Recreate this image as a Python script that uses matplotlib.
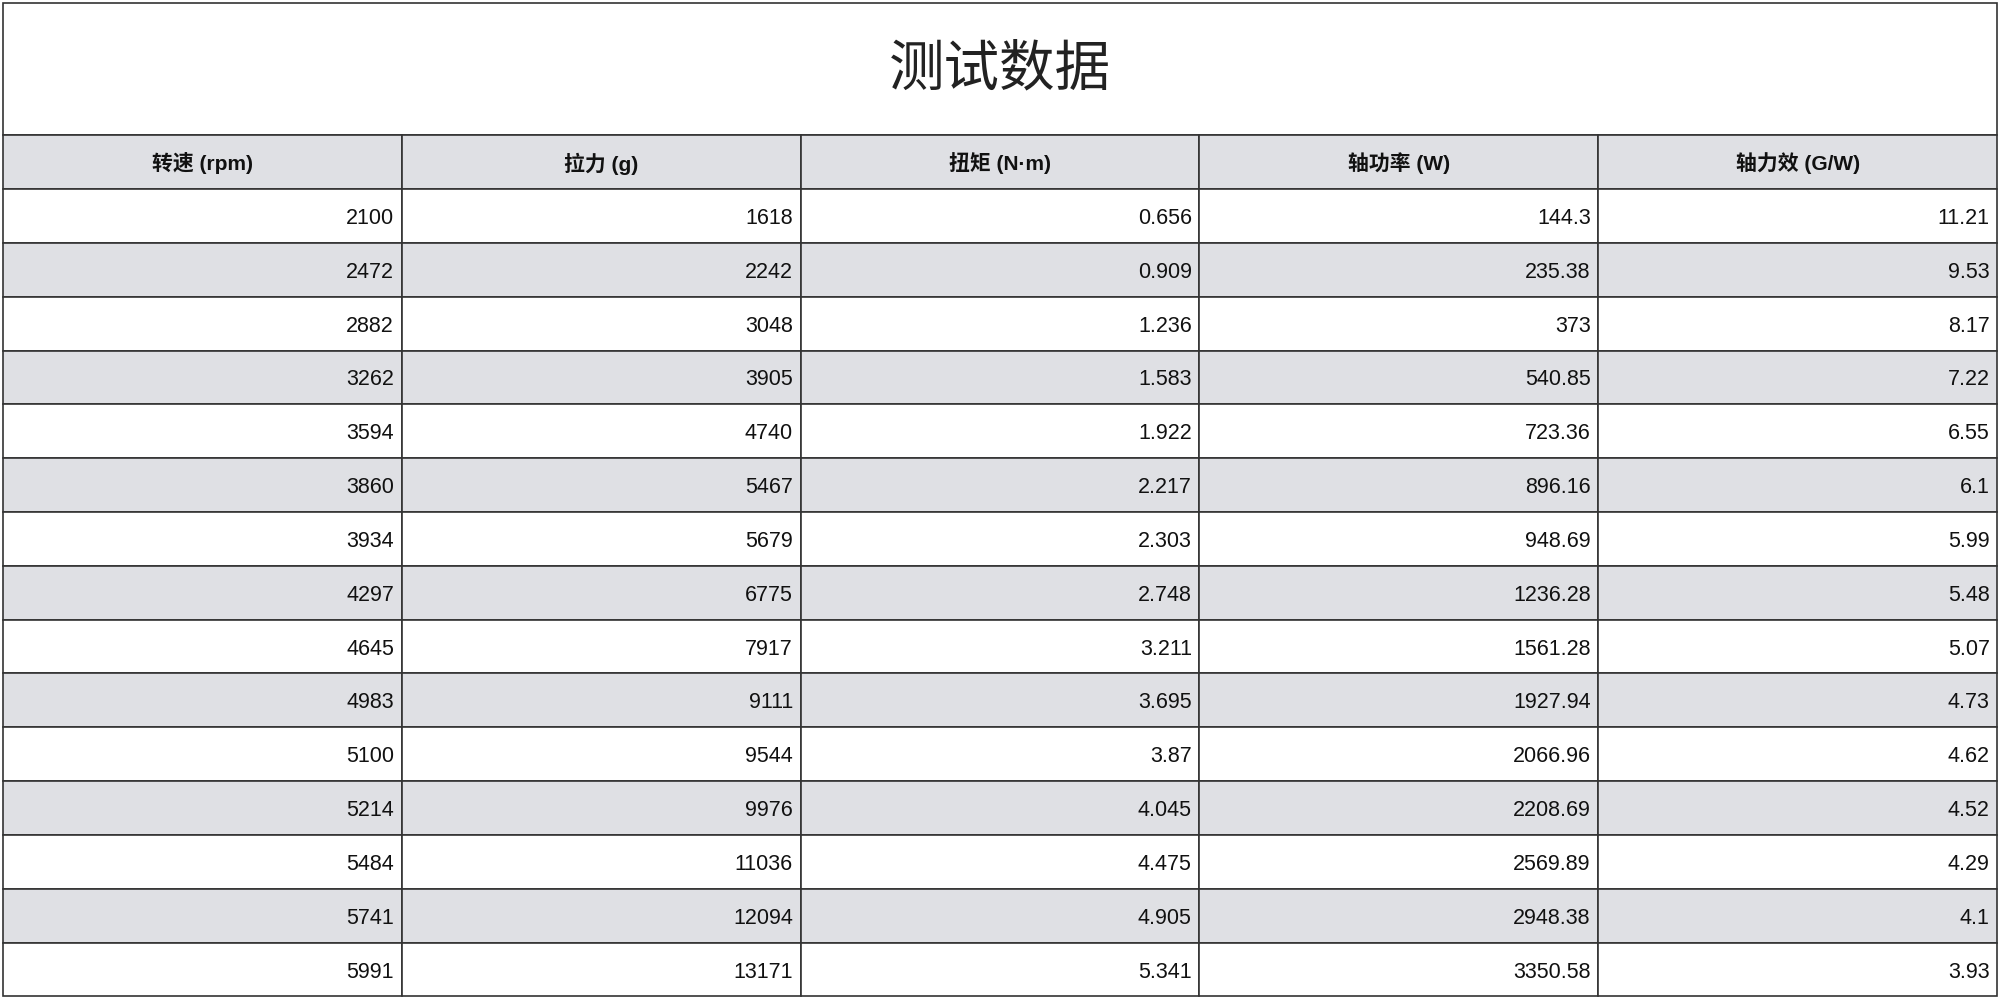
import matplotlib
matplotlib.use('Agg')
import matplotlib.pyplot as plt
from matplotlib.patches import Rectangle

plt.rcParams['font.family'] = ['Liberation Sans', 'Noto Sans CJK SC', 'DejaVu Sans']

title = '测试数据'
headers = ['转速 (rpm)', '拉力 (g)', '扭矩 (N·m)', '轴功率 (W)', '轴力效 (G/W)']
rpm = ['2100', '2472', '2882', '3262', '3594', '3860', '3934', '4297', '4645', '4983', '5100', '5214', '5484', '5741', '5991']
thrust = ['1618', '2242', '3048', '3905', '4740', '5467', '5679', '6775', '7917', '9111', '9544', '9976', '11036', '12094', '13171']
torque = ['0.656', '0.909', '1.236', '1.583', '1.922', '2.217', '2.303', '2.748', '3.211', '3.695', '3.87', '4.045', '4.475', '4.905', '5.341']
power = ['144.3', '235.38', '373', '540.85', '723.36', '896.16', '948.69', '1236.28', '1561.28', '1927.94', '2066.96', '2208.69', '2569.89', '2948.38', '3350.58']
efficiency = ['11.21', '9.53', '8.17', '7.22', '6.55', '6.1', '5.99', '5.48', '5.07', '4.73', '4.62', '4.52', '4.29', '4.1', '3.93']

columns = [rpm, thrust, torque, power, efficiency]
grey = '#dfe0e4'
line = '#333333'

# layout in reference pixel units (1568 x 784 view)
W, H = 1568, 784
left, right = 2, 1566
top, title_h, row_h = 2, 104, 42.2
col_w = (right - left) / len(headers)

fig = plt.figure(figsize=(20, 10), dpi=100)
ax = fig.add_axes([0, 0, 1, 1])
ax.set_xlim(0, W)
ax.set_ylim(H, 0)
ax.axis('off')

# title box
ax.add_patch(Rectangle((left, top), right - left, title_h, fill=False, ec=line, lw=1.2))
ax.text(W / 2, top + title_h / 2 + 2, title, ha='center', va='center', fontsize=40, color='#222222')

y0 = top + title_h
# header
for j, h in enumerate(headers):
    x = left + j * col_w
    ax.add_patch(Rectangle((x, y0), col_w, row_h, fc=grey, ec=line, lw=1.2))
    ax.text(x + col_w / 2, y0 + row_h / 2 + 1, h, ha='center', va='center', fontsize=15, fontweight='bold', color='#111111')

# body
for i in range(len(rpm)):
    y = y0 + (i + 1) * row_h
    fc = grey if i % 2 == 1 else 'white'
    for j, col in enumerate(columns):
        x = left + j * col_w
        ax.add_patch(Rectangle((x, y), col_w, row_h, fc=fc, ec=line, lw=1.2))
        ax.text(x + col_w - 6, y + row_h / 2 + 2, col[i], ha='right', va='center', fontsize=15.5, color='#111111')

fig.savefig('out.png', dpi=100)
